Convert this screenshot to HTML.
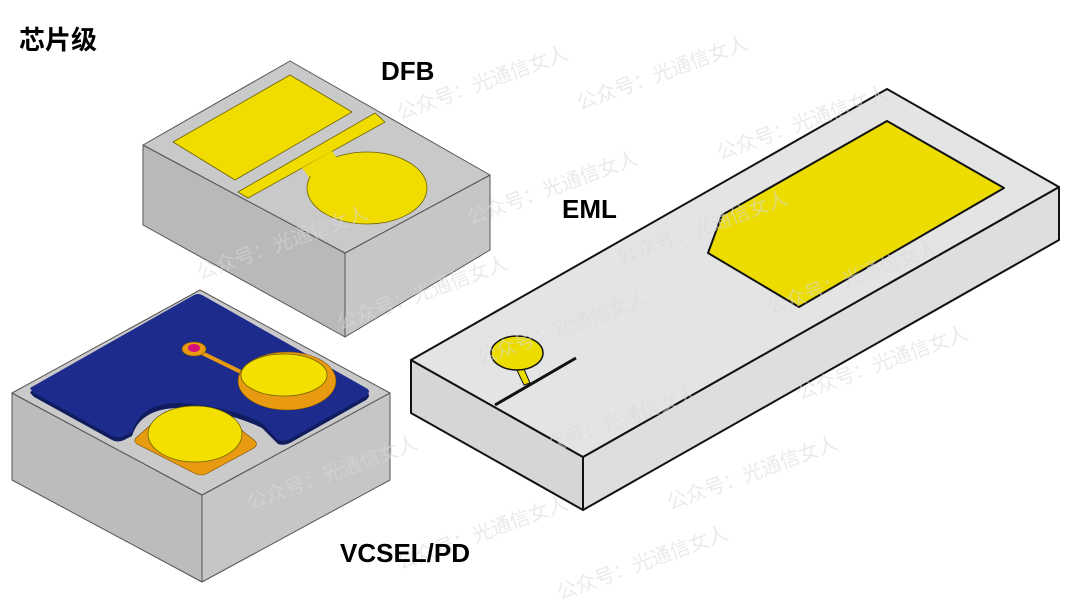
<!DOCTYPE html>
<html><head><meta charset="utf-8"><style>
html,body{margin:0;padding:0;background:#fff;}
svg{display:block;}
.t{font-family:"Liberation Sans","Noto Sans CJK SC",sans-serif;font-weight:bold;fill:#000;}
.w{font-family:"Liberation Sans","Noto Sans CJK SC",sans-serif;fill:#d9d9d9;font-size:20px;}
</style></head><body>
<svg width="1080" height="608" viewBox="0 0 1080 608" xmlns="http://www.w3.org/2000/svg">
<rect width="1080" height="608" fill="#fff"/>

<!-- DFB chip -->
<g stroke="#555" stroke-width="1" stroke-linejoin="round">
<polygon points="143,145 345,253 345,337 143,225" fill="#b9b9b9"/>
<polygon points="345,253 490,175 490,250 345,337" fill="#c6c6c6"/>
<polygon points="143,145 290,61 490,175 345,253" fill="#c9c9c9"/>
</g>
<g fill="#f1dc00" stroke="#6b6200" stroke-width="0.8">
<polygon points="173,142 290,75 352,112 235,180"/>
<polygon points="238,192 375,113 385,122 248,198"/>
<polygon points="305,170 332,154 340,170 312,184" stroke="none"/>
<ellipse cx="367" cy="188" rx="60" ry="36"/>
</g>
<polygon points="302,168 332,151 338,160 309,177" fill="#f1dc00"/>

<!-- VCSEL chip -->
<g stroke="#555" stroke-width="1" stroke-linejoin="round">
<polygon points="12,393 202,495 202,582 12,480" fill="#bcbcbc"/>
<polygon points="202,495 390,393 390,480 202,582" fill="#c6c6c6"/>
<polygon points="12,393 200,290 390,393 202,495" fill="#cacaca"/>
</g>
<path d="M30,392 Q32,396 36,398 L112,440 Q118,443 124,440 L132,436 Q140,410 175,408 Q225,410 262,428 L278,444 Q284,446 290,443 L366,400 Q372,395 366,392 L202,299 Q198,297 194,299 Z" fill="#0f1c5e"/>
<path d="M30,388 Q32,392 36,394 L112,436 Q118,439 124,436 L132,432 Q140,405 175,403 Q225,405 262,423 L278,440 Q284,442 290,439 L366,396 Q372,391 366,388 L202,295 Q198,293 194,295 Z" fill="#1c2b8c"/>
<!-- VCSEL ring -->
<line x1="200" y1="352" x2="245" y2="374" stroke="#e89a10" stroke-width="4"/>
<ellipse cx="194" cy="349" rx="12" ry="7" fill="#e89a10" stroke="#7a4f00" stroke-width="0.6"/>
<ellipse cx="194" cy="348" rx="6" ry="4" fill="#d8107a"/>
<ellipse cx="287" cy="381" rx="49" ry="29" fill="#e89a10" stroke="#7a4f00" stroke-width="0.6"/>
<ellipse cx="284" cy="375" rx="43" ry="21" fill="#f3e000" stroke="#6b6200" stroke-width="0.8"/>
<!-- PD -->
<path d="M136,438 Q133,441 137,444 L196,474 Q201,476 206,474 L254,448 Q259,444 254,440 L245,433 Q215,405 165,412 Z" fill="#e89a10" stroke="#7a4f00" stroke-width="0.6"/>
<ellipse cx="195" cy="434" rx="47" ry="28" fill="#f3e000" stroke="#6b6200" stroke-width="0.8"/>

<!-- EML chip -->
<g stroke="#111" stroke-width="2" stroke-linejoin="round">
<polygon points="411,360 583,457 583,510 411,413" fill="#d6d6d6"/>
<polygon points="583,457 1059,187 1059,240 583,510" fill="#dedede"/>
<polygon points="411,360 887,89 1059,187 583,457" fill="#e4e4e4"/>
</g>
<polygon points="887,121 1004,188 799,307 708,253 722,215" fill="#ecdc00" stroke="#111" stroke-width="2" stroke-linejoin="round"/>
<polygon points="513,362 521,362 530,383 524,385" fill="#ecdc00" stroke="#111" stroke-width="1"/>
<ellipse cx="517" cy="353" rx="26" ry="17" fill="#ecdc00" stroke="#111" stroke-width="1.5"/>
<line x1="495" y1="405" x2="576" y2="358" stroke="#111" stroke-width="3"/>

<!-- watermarks -->
<g class="w" opacity="0.55">
<text transform="translate(400,120) rotate(-20)">公众号：光通信女人</text>
<text transform="translate(580,110) rotate(-20)">公众号：光通信女人</text>
<text transform="translate(470,225) rotate(-20)">公众号：光通信女人</text>
<text transform="translate(720,160) rotate(-20)">公众号：光通信女人</text>
<text transform="translate(200,280) rotate(-20)">公众号：光通信女人</text>
<text transform="translate(620,265) rotate(-20)">公众号：光通信女人</text>
<text transform="translate(340,330) rotate(-20)">公众号：光通信女人</text>
<text transform="translate(770,315) rotate(-20)">公众号：光通信女人</text>
<text transform="translate(480,365) rotate(-20)">公众号：光通信女人</text>
<text transform="translate(800,400) rotate(-20)">公众号：光通信女人</text>
<text transform="translate(530,460) rotate(-20)">公众号：光通信女人</text>
<text transform="translate(250,510) rotate(-20)">公众号：光通信女人</text>
<text transform="translate(670,510) rotate(-20)">公众号：光通信女人</text>
<text transform="translate(400,570) rotate(-20)">公众号：光通信女人</text>
<text transform="translate(560,600) rotate(-20)">公众号：光通信女人</text>
</g>

<!-- labels -->
<text class="t" x="19" y="49" font-size="26">芯片级</text>
<text class="t" x="381" y="80" font-size="26">DFB</text>
<text class="t" x="562" y="218" font-size="26">EML</text>
<text class="t" x="340" y="562" font-size="26">VCSEL/PD</text>
</svg>
</body></html>
